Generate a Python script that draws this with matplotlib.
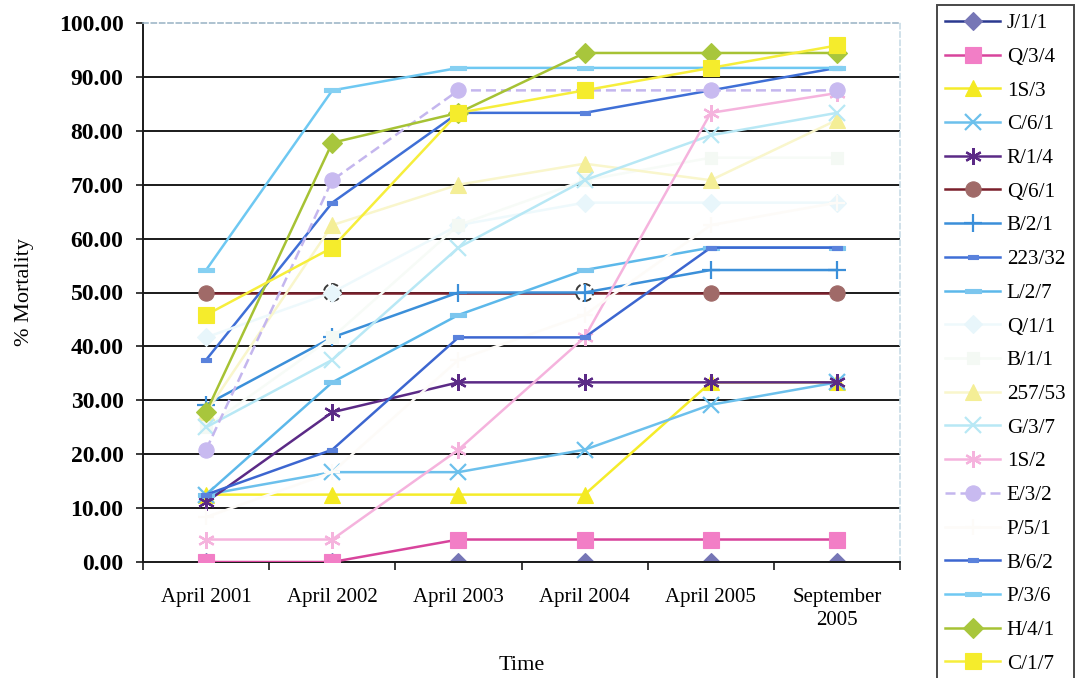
import matplotlib
matplotlib.use("Agg")
import matplotlib.pyplot as plt
from matplotlib.lines import Line2D

plt.rcParams['font.family'] = ['Liberation Serif', 'DejaVu Serif']

# ---- data -------------------------------------------------------------
periods = ["April 2001", "April 2002", "April 2003", "April 2004",
           "April 2005", "September\n2005"]

clones = ["J/1/1", "Q/3/4", "1S/3", "C/6/1", "R/1/4", "Q/6/1", "B/2/1",
          "223/32", "L/2/7", "Q/1/1", "B/1/1", "257/53", "G/3/7", "1S/2",
          "E/3/2", "P/5/1", "B/6/2", "P/3/6", "H/4/1", "C/1/7"]

j_1_1 = [0.00, 0.00, 0.00, 0.00, 0.00, 0.00]
q_3_4 = [0.00, 0.00, 4.17, 4.17, 4.17, 4.17]
s1_3 = [12.50, 12.50, 12.50, 12.50, 33.33, 33.33]
c_6_1 = [12.50, 16.67, 16.67, 20.83, 29.17, 33.33]
r_1_4 = [11.11, 27.78, 33.33, 33.33, 33.33, 33.33]
q_6_1 = [50.00, 50.00, 50.00, 50.00, 50.00, 50.00]
b_2_1 = [29.17, 41.67, 50.00, 50.00, 54.17, 54.17]
n223_32 = [37.50, 66.67, 83.33, 83.33, 87.50, 91.67]
l_2_7 = [12.50, 33.33, 45.83, 54.17, 58.33, 58.33]
q_1_1 = [41.67, 50.00, 62.50, 66.67, 66.67, 66.67]
b_1_1 = [25.00, 41.67, 62.50, 70.83, 75.00, 75.00]
n257_53 = [27.78, 62.50, 70.00, 73.90, 70.83, 82.00]
g_3_7 = [25.00, 37.50, 58.33, 70.83, 79.17, 83.33]
s1_2 = [4.17, 4.17, 20.83, 41.67, 83.33, 87.00]
e_3_2 = [20.83, 70.83, 87.50, 87.50, 87.50, 87.50]
p_5_1 = [8.33, 16.67, 37.50, 45.83, 62.50, 66.67]
b_6_2 = [12.50, 20.83, 41.67, 41.67, 58.33, 58.33]
p_3_6 = [54.17, 87.50, 91.67, 91.67, 91.67, 91.67]
h_4_1 = [27.78, 77.78, 83.33, 94.44, 94.44, 94.44]
c_1_7 = [45.83, 58.33, 83.33, 87.50, 91.67, 95.83]

series = [j_1_1, q_3_4, s1_3, c_6_1, r_1_4, q_6_1, b_2_1, n223_32, l_2_7,
          q_1_1, b_1_1, n257_53, g_3_7, s1_2, e_3_2, p_5_1, b_6_2, p_3_6,
          h_4_1, c_1_7]

# ---- styles -----------------------------------------------------------
short_bar = [(-1, -0.45), (1, -0.45), (1, 0.45), (-1, 0.45), (-1, -0.45)]
long_bar = [(-1, -0.25), (1, -0.25), (1, 0.25), (-1, 0.25), (-1, -0.25)]
asterisk = (6, 2, 0)

# (line colour, marker, marker face, marker size, linestyle)
styles = [
    ("#2b3990", "D", "#7676b6", 9, "-"),
    ("#d8449c", "s", "#f27ec6", 11, "-"),
    ("#f5ec2a", "^", "#f4ea22", 11, "-"),
    ("#6cc0ec", "x", "#6cc0ec", 11, "-"),
    ("#5b2a86", asterisk, "#8e62c0", 12, "-"),
    ("#7a1f2b", "o", "#a06a68", 11, "-"),
    ("#3b8fd9", "+", "#3b8fd9", 13, "-"),
    ("#3f6fd6", short_bar, "#5a82dc", 7, "-"),
    ("#5cb8ea", long_bar, "#7cc6ee", 11, "-"),
    ("#eef9fc", "D", "#e8f6fb", 9, "-"),
    ("#f7fbf7", "s", "#f4f9f4", 9, "-"),
    ("#f9f6cc", "^", "#f4ee96", 11, "-"),
    ("#b8e8f5", "x", "#b8e8f5", 11, "-"),
    ("#f5b3dd", asterisk, "#f5b3dd", 12, "-"),
    ("#c4b6ee", "o", "#c8baf0", 11, (0, (4, 2))),
    ("#fdfbf8", "+", "#fdfbf8", 11, "-"),
    ("#3c66d0", short_bar, "#5a82dc", 7, "-"),
    ("#6ec8f2", long_bar, "#86d0f2", 11, "-"),
    ("#a6c234", "D", "#a8c63c", 10, "-"),
    ("#f6ee3c", "s", "#f5ec2c", 12, "-"),
]

# ---- figure -----------------------------------------------------------
fig = plt.figure(figsize=(10.76, 6.78), dpi=100)
ax = fig.add_axes([143 / 1076, 1 - 562 / 678, (900 - 143) / 1076,
                   (562 - 23) / 678])

x = list(range(len(periods)))

for yv in range(10, 100, 10):
    ax.axhline(yv, color="#1a1a1a", lw=1.4, zorder=1)

handles = []
for i, (name, vals, st) in enumerate(zip(clones, series, styles)):
    color, mk, face, ms, ls = st
    mkw = dict(marker=mk, markersize=ms, markerfacecolor=face,
               markeredgecolor=face if mk not in ("x", "+", asterisk) else color,
               markeredgewidth=1.6 if mk in ("x", "+", asterisk) else 0.8)
    if name == "Q/6/1":
        ax.plot(x, vals, color=color, lw=1.8, ls=ls, zorder=2 + i,
                markevery=[0, 4, 5], **mkw)
        # washed-out markers drawn as open dashed rings
        ax.scatter([x[1], x[3]], [vals[1], vals[3]], s=150, facecolor="white",
                   edgecolor="#3a3a3a", linewidths=1.4, linestyle="--",
                   zorder=2 + i)
    else:
        ax.plot(x, vals, color=color, lw=1.8, ls=ls, zorder=2 + i, **mkw)
    handles.append(Line2D([], [], color=color, lw=1.8, ls=ls, **mkw))

ax.set_xlim(-0.5, 5.5)
ax.set_ylim(0, 100)
ax.set_yticks(range(0, 101, 10))
ax.set_yticklabels([f"{v:.2f}" for v in range(0, 101, 10)],
                   fontsize=17, fontweight="bold")
ax.set_xticks(x)
ax.set_xticklabels(periods, fontsize=15, linespacing=1.25)
ax.set_xticks([v - 0.5 for v in range(len(periods) + 1)], minor=True)
ax.tick_params(axis="x", which="major", length=0, pad=19)
ax.tick_params(axis="x", which="minor", length=6, width=1.2,
               direction="out", color="#1a1a1a")
ax.tick_params(axis="y", length=5, width=1.2, direction="out", pad=9,
               color="#1a1a1a")

for side in ("left", "bottom"):
    ax.spines[side].set_color("#1a1a1a")
    ax.spines[side].set_linewidth(1.4)
ax.spines["top"].set_color("#9fb8c8")
ax.spines["top"].set_linestyle((0, (3, 2)))
ax.spines["top"].set_linewidth(1.2)
ax.spines["right"].set_color("#c8dce6")
ax.spines["right"].set_linestyle((0, (3, 2)))
ax.spines["right"].set_linewidth(1.2)

ax.set_ylabel("% Mortality", fontsize=16, labelpad=18)
ax.set_xlabel("Time", fontsize=16, labelpad=19)

leg = fig.legend(handles, clones, loc="upper left",
                 bbox_to_anchor=(937 / 1076, 1 - 5 / 678),
                 frameon=True, fancybox=False, fontsize=15.2,
                 handlelength=2.6, handletextpad=0.3, labelspacing=0.66,
                 borderpad=0.4, borderaxespad=0)
leg.get_frame().set_edgecolor("#1a1a1a")
leg.get_frame().set_linewidth(1.4)

fig.savefig("out.png", dpi=100, facecolor="white")
